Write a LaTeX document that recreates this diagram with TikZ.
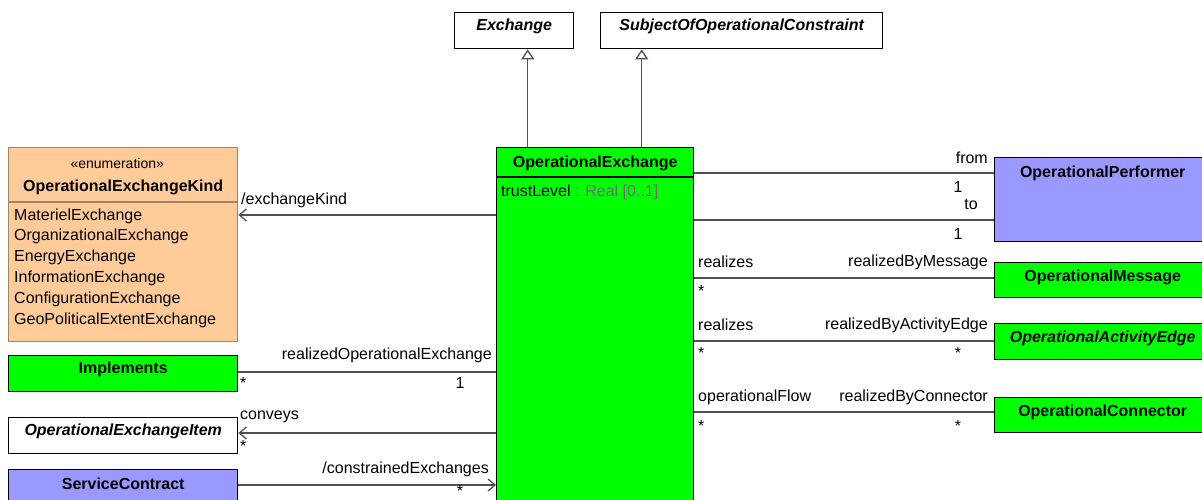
\documentclass[tikz,border=0pt]{standalone}
\usepackage{fontspec}
\setmainfont{Liberation Sans}
\usepackage{xcolor}
\usetikzlibrary{arrows.meta, positioning}

\definecolor{opgreen}{HTML}{00FF00}
\definecolor{opblue}{HTML}{9999FF}
\definecolor{oporange}{HTML}{FFCC99}
\definecolor{enumborder}{HTML}{A08468}
\definecolor{linegray}{HTML}{505050}
\definecolor{typegray}{HTML}{6E6E6E}

\begin{document}
\begin{tikzpicture}[x=1pt, y=-1pt,
    every node/.style={font=\fontsize{16}{20}\selectfont, inner sep=0pt},
    clsbox/.style={draw=black, line width=1.4pt, anchor=north west},
    clsname/.style={font=\fontsize{16}{20}\selectfont\bfseries},
    absname/.style={font=\fontsize{16}{20}\selectfont\bfseries\itshape},
    assoc/.style={draw=linegray, line width=1.3pt},
    navi/.style={assoc, -{Straight Barb[length=7pt, width=12pt]}},
    gen/.style={assoc, -{Triangle[open, length=10pt, width=13pt, fill=white]}}
]
    \clip (0,0) rectangle (1202,500);

    % 1. Các lớp
    \node[clsbox, minimum width=119pt, minimum height=36pt] (exch) at (454,12) {};
    \node[absname] at ([yshift=-14.5pt]exch.north) {Exchange};
    \node[clsbox, minimum width=282pt, minimum height=36pt] (subj) at (600,12) {};
    \node[absname] at ([yshift=-14.5pt]subj.north) {SubjectOfOperationalConstraint};

    \node[clsbox, fill=opgreen, minimum width=197pt, minimum height=362pt] (oe) at (496,147) {};
    \node[clsname] at ([yshift=-16pt]oe.north) {OperationalExchange};
    \draw[line width=1.4pt] (oe.west |- 0,177) -- (oe.east |- 0,177);
    \node[anchor=west] at (501,192) {trustLevel\ \textcolor{typegray}{: Real [0..1]}};

    \node[clsbox, draw=enumborder, fill=oporange, minimum width=229pt, minimum height=194pt] (kind) at (8,147) {};
    \node[font=\fontsize{14}{17}\selectfont] at ([xshift=-6pt, yshift=-16pt]kind.north) {«enumeration»};
    \node[clsname] at ([yshift=-40pt]kind.north) {OperationalExchangeKind};
    \draw[enumborder, line width=1.4pt] (kind.west |- 0,202) -- (kind.east |- 0,202);
    \foreach \lit [count=\i from 0] in {MaterielExchange, OrganizationalExchange, EnergyExchange,
        InformationExchange, ConfigurationExchange, GeoPoliticalExtentExchange} {
        \node[anchor=west] at (14,216+20.8*\i) {\lit};
    }

    \node[clsbox, fill=opgreen, minimum width=229pt, minimum height=36pt] (impl) at (8,355) {};
    \node[clsname] at ([yshift=-14.5pt]impl.north) {Implements};
    \node[clsbox, minimum width=229pt, minimum height=36pt] (item) at (8,417) {};
    \node[absname] at ([yshift=-14.5pt]item.north) {OperationalExchangeItem};
    \node[clsbox, fill=opblue, minimum width=229pt, minimum height=40pt] (svc) at (8,469) {};
    \node[clsname] at ([yshift=-14.5pt]svc.north) {ServiceContract};

    \node[clsbox, fill=opblue, minimum width=216pt, minimum height=84pt] (perf) at (994,157) {};
    \node[clsname] at ([yshift=-16pt]perf.north) {OperationalPerformer};
    \node[clsbox, fill=opgreen, minimum width=216pt, minimum height=35pt] (msg) at (994,262) {};
    \node[clsname] at ([yshift=-15pt]msg.north) {OperationalMessage};
    \node[clsbox, fill=opgreen, minimum width=216pt, minimum height=36pt] (edge) at (994,323) {};
    \node[absname] at ([yshift=-15pt]edge.north) {OperationalActivityEdge};
    \node[clsbox, fill=opgreen, minimum width=216pt, minimum height=35pt] (conn) at (994,397) {};
    \node[clsname] at ([yshift=-15pt]conn.north) {OperationalConnector};

    % 2. Tổng quát hóa
    \coordinate (g1) at ([xshift=-67.5pt]oe.north);
    \coordinate (g2) at ([xshift=46.5pt]oe.north);
    \draw[gen] (g1) -- (g1 |- exch.south);
    \draw[gen] (g2) -- (g2 |- subj.south);

    % 3. Liên kết bên trái
    \draw[navi] (oe.west |- 0,215) -- (kind.east |- 0,215);
    \node[anchor=west] at (241,200) {/exchangeKind};

    \draw[assoc] (impl.east |- 0,372) -- (oe.west |- 0,372);
    \node[anchor=east] at (492,355) {realizedOperationalExchange};
    \node[anchor=west] at (240,383) {*};
    \node at (460,383) {1};

    \draw[navi] (oe.west |- 0,433) -- (item.east |- 0,433);
    \node[anchor=west] at (240,417) {conveys};
    \node[anchor=west] at (240,446) {*};

    \draw[navi] (svc.east |- 0,485) -- (oe.west |- 0,485);
    \node[anchor=east] at (489,469) {/constrainedExchanges};
    \node[anchor=base] at (460,496) {*};

    % 4. Liên kết bên phải
    \draw[assoc] (oe.east |- 0,173) -- (perf.west |- 0,173);
    \node[anchor=east] at (988,158) {from};
    \node at (958,187) {1};
    \draw[assoc] (oe.east |- 0,220) -- (perf.west |- 0,220);
    \node[anchor=east] at (978,204) {to};
    \node at (958,234) {1};

    \draw[assoc] (oe.east |- 0,278) -- (msg.west |- 0,278);
    \node[anchor=west] at (698,262) {realizes};
    \node[anchor=east] at (988,262) {realizedByMessage};
    \node[anchor=west] at (698,291) {*};

    \draw[assoc] (oe.east |- 0,341) -- (edge.west |- 0,341);
    \node[anchor=west] at (698,325) {realizes};
    \node[anchor=east] at (988,325) {realizedByActivityEdge};
    \node[anchor=west] at (698,353) {*};
    \node at (958,353) {*};

    \draw[assoc] (oe.east |- 0,412) -- (conn.west |- 0,412);
    \node[anchor=west] at (698,397) {operationalFlow};
    \node[anchor=east] at (988,397) {realizedByConnector};
    \node[anchor=west] at (698,426) {*};
    \node at (958,426) {*};
\end{tikzpicture}
\end{document}
